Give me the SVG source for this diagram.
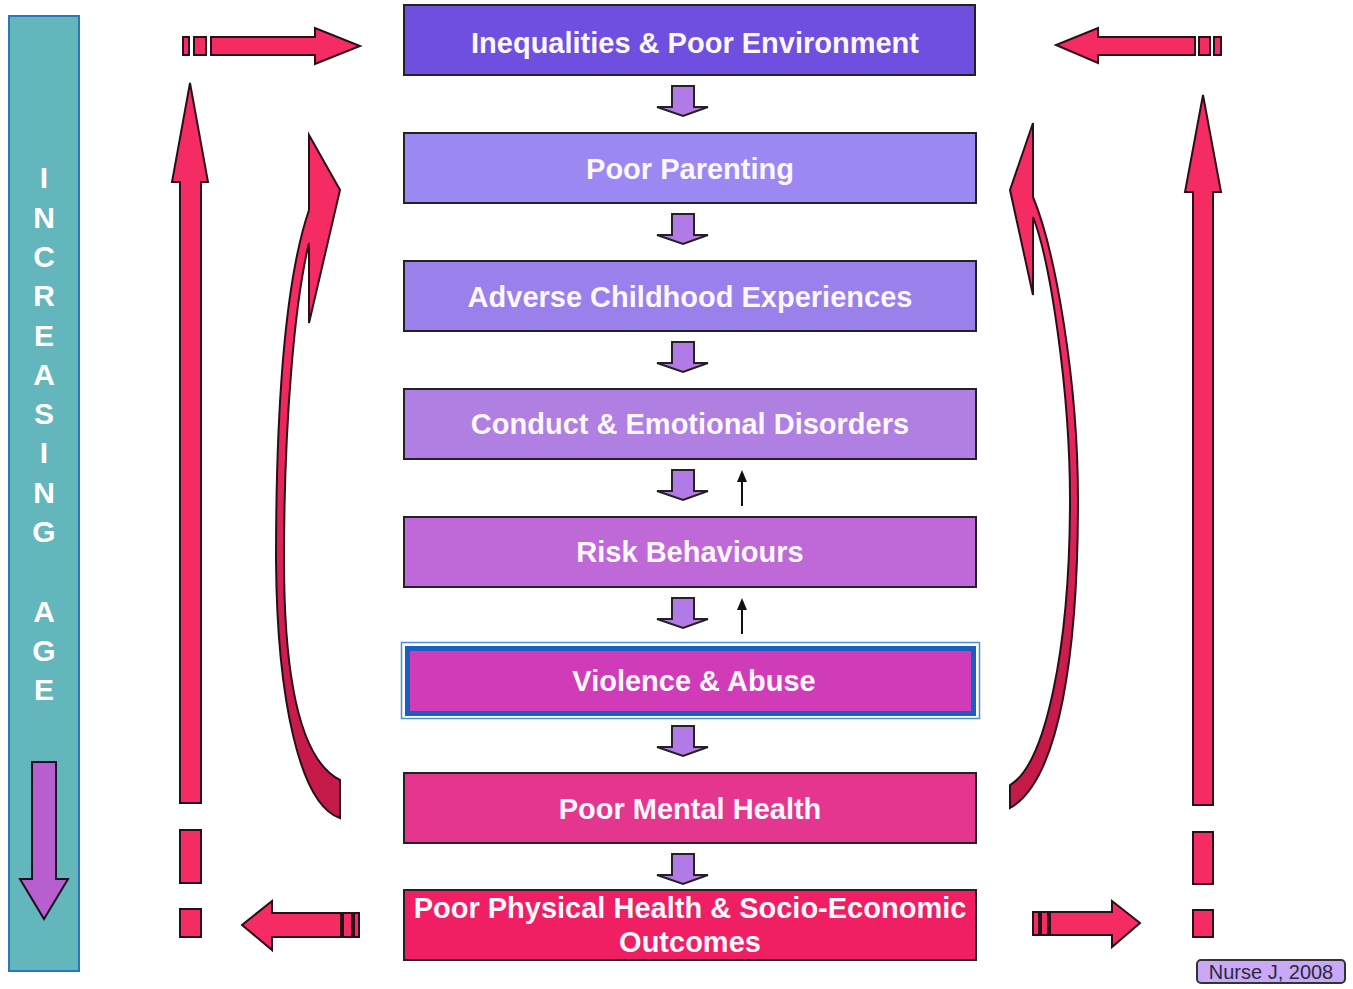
<svg xmlns="http://www.w3.org/2000/svg" width="1353" height="989" viewBox="0 0 1353 989">
<defs>
<style>
.box{stroke:#222;stroke-width:2}
.lbl{font-family:"Liberation Sans",Arial,sans-serif;font-weight:bold;font-size:29px;fill:#fbf8fd;text-anchor:middle}
.age{font-family:"Liberation Sans",Arial,sans-serif;font-weight:bold;font-size:30px;fill:#ffffff;text-anchor:middle}
.pink{fill:#f52b63;stroke:#2a0f18;stroke-width:2;stroke-linejoin:miter}
.dn{fill:#b27ae6;stroke:#222;stroke-width:2}
.thin{stroke:#111;stroke-width:2;fill:none}
.tip{fill:#111}
</style>
<linearGradient id="curveGrad" x1="0" y1="0" x2="0" y2="1">
<stop offset="0.3" stop-color="#f52b63"/>
<stop offset="0.8" stop-color="#c91c4c"/>
<stop offset="1" stop-color="#c41a48"/>
</linearGradient>
<path id="downArrow" d="M-11,0 H11 V21 H25 L0,30 L-26,21 H-11 Z"/>
</defs>
<rect width="1353" height="989" fill="#ffffff"/>

<g id="age-bar">
<rect x="9" y="16" width="70" height="955" fill="#63b6bb" stroke="#2b78b8" stroke-width="2"/>
<text class="age" x="44" y="188">I</text>
<text class="age" x="44" y="228">N</text>
<text class="age" x="44" y="267">C</text>
<text class="age" x="44" y="306">R</text>
<text class="age" x="44" y="346">E</text>
<text class="age" x="44" y="385">A</text>
<text class="age" x="44" y="424">S</text>
<text class="age" x="44" y="463">I</text>
<text class="age" x="44" y="503">N</text>
<text class="age" x="44" y="542">G</text>
<text class="age" x="44" y="622">A</text>
<text class="age" x="44" y="661">G</text>
<text class="age" x="44" y="700">E</text>
<path d="M32,762 H56 V879 H68 L44,919 L20,879 H32 Z" fill="#b85fd0" stroke="#1a1020" stroke-width="2"/>
</g>

<g id="n1">
<rect class="box" x="404" y="5" width="571" height="70" fill="#6f4fe0"/>
<text class="lbl" x="695" y="53">Inequalities &amp; Poor Environment</text>
</g>
<g id="n2">
<rect class="box" x="404" y="133" width="572" height="70" fill="#9b88f2"/>
<text class="lbl" x="690" y="179">Poor Parenting</text>
</g>
<g id="n3">
<rect class="box" x="404" y="261" width="572" height="70" fill="#9a80ea"/>
<text class="lbl" x="690" y="307">Adverse Childhood Experiences</text>
</g>
<g id="n4">
<rect class="box" x="404" y="389" width="572" height="70" fill="#b07fe2"/>
<text class="lbl" x="690" y="434">Conduct &amp; Emotional Disorders</text>
</g>
<g id="n5">
<rect class="box" x="404" y="517" width="572" height="70" fill="#bf68d8"/>
<text class="lbl" x="690" y="562">Risk Behaviours</text>
</g>
<g id="n6">
<rect x="401.5" y="642.5" width="578" height="76" fill="#ffffff" stroke="#4a90d0" stroke-width="1.5"/>
<rect x="407.5" y="648.5" width="566" height="65" fill="#d03cb8" stroke="#1a5fc0" stroke-width="5"/>
<text class="lbl" x="694" y="691">Violence &amp; Abuse</text>
</g>
<g id="n7">
<rect class="box" x="404" y="773" width="572" height="70" fill="#e5368f"/>
<text class="lbl" x="690" y="819">Poor Mental Health</text>
</g>
<g id="n8">
<rect class="box" x="404" y="890" width="572" height="70" fill="#f01f63"/>
<text class="lbl" x="690" y="918">Poor Physical Health &amp; Socio-Economic</text>
<text class="lbl" x="690" y="952">Outcomes</text>
</g>

<g id="connectors">
<use href="#downArrow" class="dn" transform="translate(683,86)"/>
<use href="#downArrow" class="dn" transform="translate(683,214)"/>
<use href="#downArrow" class="dn" transform="translate(683,342)"/>
<use href="#downArrow" class="dn" transform="translate(683,470)"/>
<use href="#downArrow" class="dn" transform="translate(683,598)"/>
<use href="#downArrow" class="dn" transform="translate(683,726)"/>
<use href="#downArrow" class="dn" transform="translate(683,854)"/>
<line class="thin" x1="742" y1="506" x2="742" y2="479"/>
<path class="tip" d="M742,470 L747,482 L737,482 Z"/>
<line class="thin" x1="742" y1="634" x2="742" y2="607"/>
<path class="tip" d="M742,598 L747,610 L737,610 Z"/>

<!-- top left arrow -->
<rect class="pink" x="183" y="37" width="6" height="18"/>
<rect class="pink" x="194" y="37" width="12" height="18"/>
<path class="pink" d="M211,37 H315 V28 L360,46 L315,64 V55 H211 Z"/>
<!-- top right arrow -->
<rect class="pink" x="1199" y="37" width="11" height="18"/>
<rect class="pink" x="1214" y="37" width="7" height="18"/>
<path class="pink" d="M1195,37 H1098 V28 L1056,45 L1098,63 V55 H1195 Z"/>
<!-- bottom left arrow -->
<path class="pink" d="M341,913 H272 V901 L242,925 L272,950 V937 H341 Z"/>
<rect class="pink" x="343" y="913" width="9" height="24"/>
<rect class="pink" x="354" y="913" width="5" height="24"/>
<!-- bottom right arrow -->
<rect class="pink" x="1033" y="912" width="6" height="23"/>
<rect class="pink" x="1041" y="912" width="7" height="23"/>
<path class="pink" d="M1050,912 H1112 V901 L1140,923 L1112,947 V935 H1050 Z"/>
<!-- left up arrow -->
<path class="pink" d="M190,83 L208,182 H201 V803 H180 V182 H172 Z"/>
<rect class="pink" x="180" y="830" width="21" height="53"/>
<rect class="pink" x="180" y="909" width="21" height="28"/>
<!-- right up arrow -->
<path class="pink" d="M1203,95 L1221,192 H1213 V805 H1193 V192 H1185 Z"/>
<rect class="pink" x="1193" y="832" width="20" height="52"/>
<rect class="pink" x="1193" y="910" width="20" height="27"/>
<!-- left curved arrow -->
<path d="M309,135 L340,190 L309,323 L309,243 C295,300 284,420 284,560 C284,680 300,760 340,780 L340,818 C300,805 277,700 276,560 C276,400 285,280 309,210 Z" fill="url(#curveGrad)" stroke="#2a0f18" stroke-width="2"/>
<!-- right curved arrow -->
<path d="M1033,123 L1010,190 L1033,295 L1033,217 C1050,260 1070,390 1070,500 C1070,650 1045,765 1010,785 L1010,808 C1060,780 1078,650 1078,500 C1078,380 1055,250 1033,197 Z" fill="url(#curveGrad)" stroke="#2a0f18" stroke-width="2"/>
</g>

<g id="credit">
<rect x="1197" y="960" width="148" height="23" rx="4" fill="#c9a8f5" stroke="#333" stroke-width="2"/>
<text x="1271" y="979" font-family="'Liberation Sans',Arial,sans-serif" font-size="20" fill="#2a2a3a" text-anchor="middle">Nurse J, 2008</text>
</g>
</svg>
